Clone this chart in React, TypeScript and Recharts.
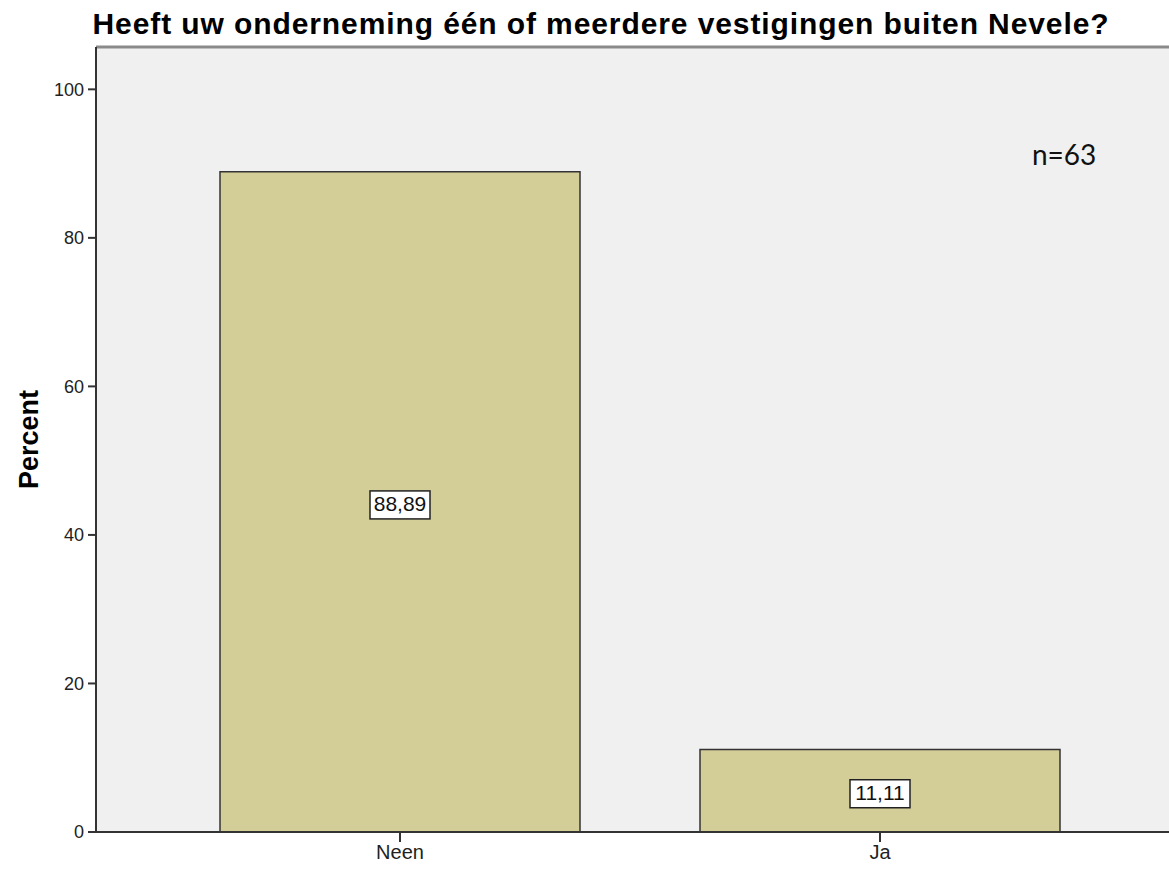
import React from "react";
import {
  BarChart,
  Bar,
  XAxis,
  YAxis,
  CartesianGrid,
  ReferenceLine,
  LabelList,
} from "recharts";

const categories = ["Neen", "Ja"];
const percentValues = [88.89, 11.11];
const yTicks = [0, 20, 40, 60, 80, 100];
const sampleNote = "n=63";
const title = "Heeft uw onderneming één of meerdere vestigingen buiten Nevele?";

const data = categories.map((name, i) => ({ name, percent: percentValues[i] }));

const Y_MAX = 105.7;
const AXIS = "#333333";
const FONT = "'Liberation Sans', Arial, sans-serif";

const fmt = (v: number) => v.toFixed(2).replace(".", ",");

// white boxed value in the middle of each bar
function ValueBox(props: any) {
  const { x, y, width, height, value } = props;
  const cx = x + width / 2;
  const cy = y + height / 2 + 3;
  const w = 60;
  const h = 28;
  return (
    <g>
      <rect
        x={cx - w / 2}
        y={cy - h / 2}
        width={w}
        height={h}
        fill="#ffffff"
        stroke="#222"
        strokeWidth={1.5}
      />
      <text
        x={cx}
        y={cy + 1}
        textAnchor="middle"
        dominantBaseline="middle"
        fontFamily={FONT}
        fontSize={21}
        fill="#111"
      >
        {fmt(value)}
      </text>
    </g>
  );
}

export default function App() {
  return (
    <div
      style={{
        position: "absolute",
        left: 0,
        top: 0,
        width: 1169,
        height: 870,
        overflow: "hidden",
        background: "#fff",
      }}
    >
      <div
        style={{
          position: "absolute",
          left: 0,
          width: 1202,
          top: 7,
          textAlign: "center",
          fontFamily: FONT,
          fontWeight: "bold",
          fontSize: 30,
          letterSpacing: 0.9,
          color: "#000",
          whiteSpace: "nowrap",
        }}
      >
        {title}
      </div>
      <BarChart
        width={1172}
        height={870}
        data={data}
        margin={{ top: 47, right: 0, bottom: 0, left: 36 }}
        barCategoryGap="12.5%"
      >
        <CartesianGrid fill="#F0F0F0" horizontal={false} vertical={false} />
        <ReferenceLine y={Y_MAX} stroke="#8a8a8a" strokeWidth={3} ifOverflow="extendDomain" />
        <XAxis
          dataKey="name"
          padding={{ left: 64, right: 52 }}
          height={38}
          tickSize={10}
          tickMargin={3}
          axisLine={{ stroke: AXIS, strokeWidth: 2 }}
          tickLine={{ stroke: AXIS, strokeWidth: 2 }}
          tick={{ fill: "#222", fontSize: 20, fontFamily: FONT }}
        />
        <YAxis
          width={60}
          domain={[0, Y_MAX]}
          ticks={yTicks}
          allowDataOverflow
          tickSize={8}
          tickMargin={4}
          axisLine={{ stroke: AXIS, strokeWidth: 2 }}
          tickLine={{ stroke: AXIS, strokeWidth: 2 }}
          tick={{ fill: "#222", fontSize: 18, fontFamily: FONT }}
          label={{
            value: "Percent",
            angle: -90,
            position: "insideLeft",
            offset: -8,
            style: {
              textAnchor: "middle",
              fontFamily: FONT,
              fontWeight: "bold",
              fontSize: 27,
              fill: "#000",
            },
          }}
        />
        <Bar
          dataKey="percent"
          fill="#D3CD98"
          stroke="#333"
          strokeWidth={1.5}
          isAnimationActive={false}
        >
          <LabelList dataKey="percent" content={<ValueBox />} />
        </Bar>
      </BarChart>
      <div
        style={{
          position: "absolute",
          left: 1032,
          top: 137,
          fontFamily: "Lato, 'Open Sans', sans-serif",
          fontSize: 28,
          color: "#111",
        }}
      >
        {sampleNote}
      </div>
    </div>
  );
}
